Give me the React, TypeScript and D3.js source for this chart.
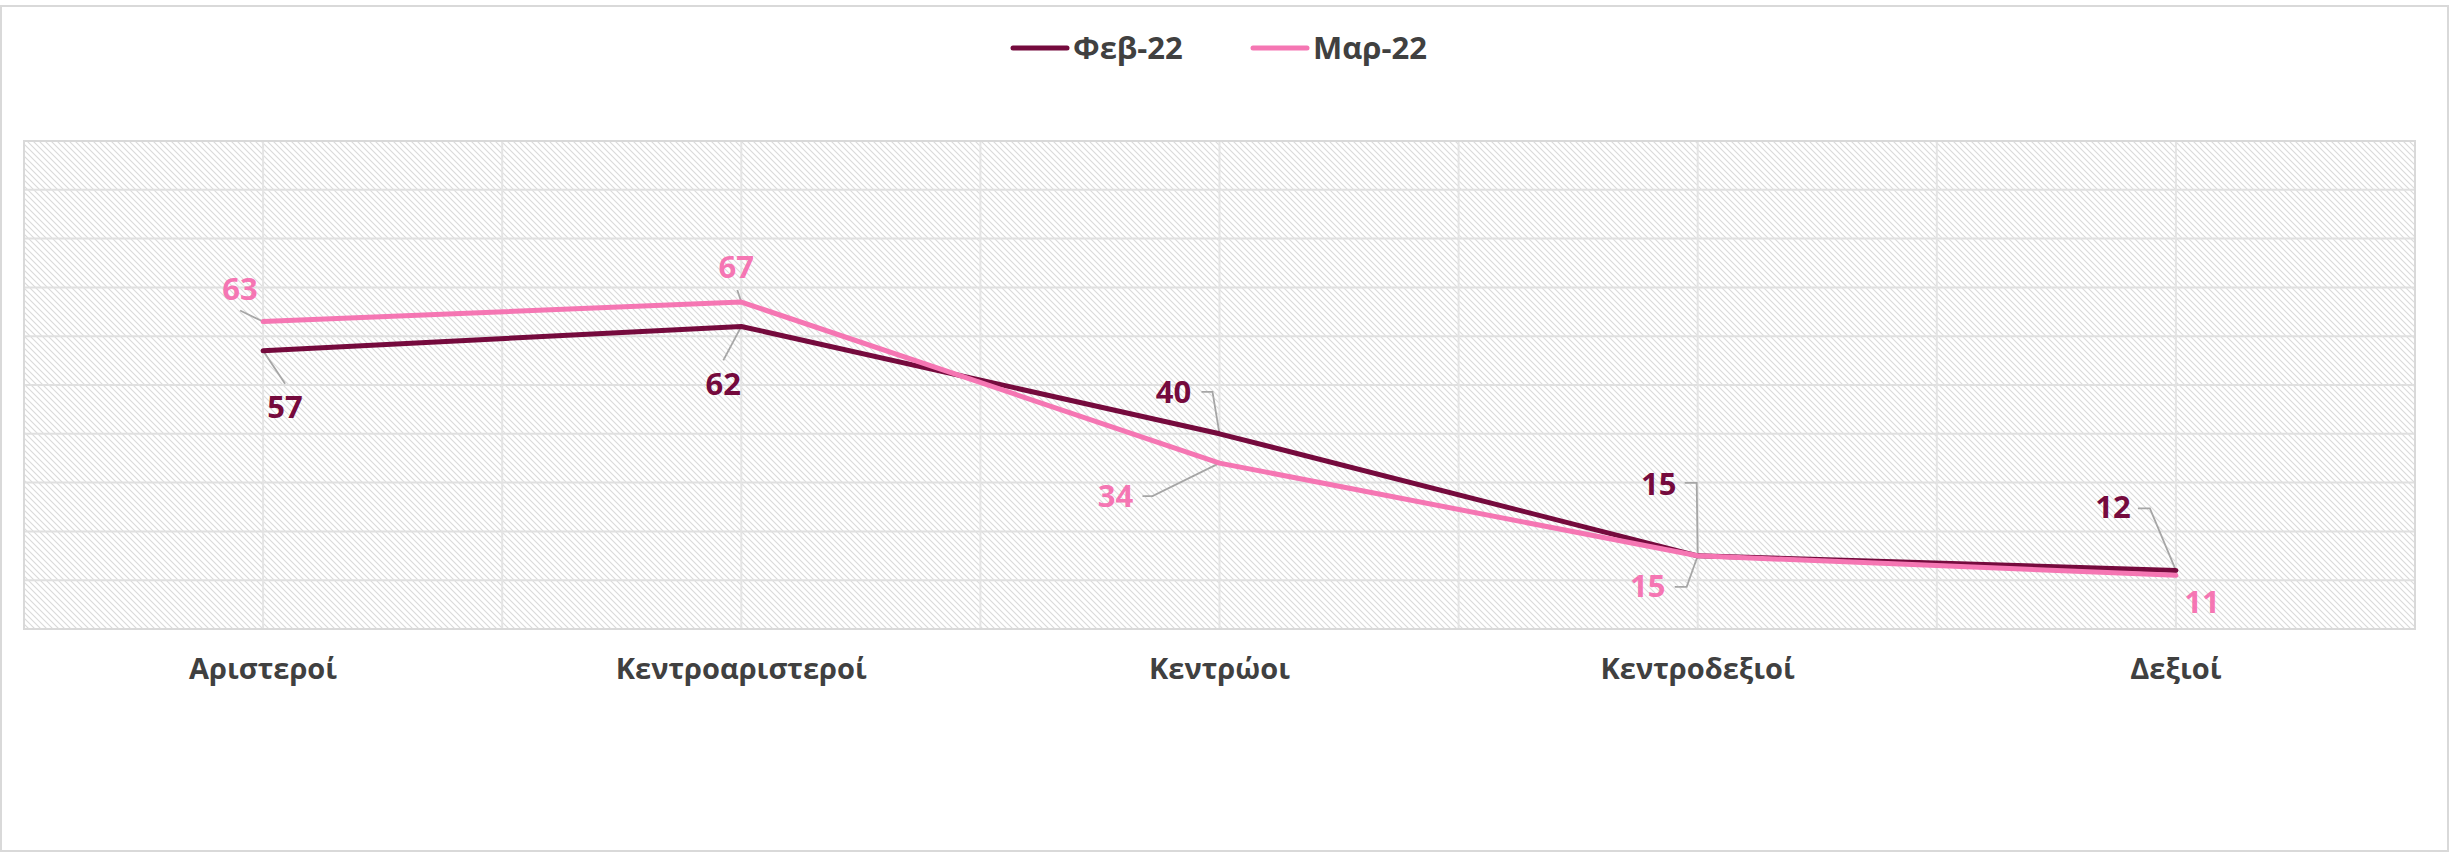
import React from "react";
import * as d3 from "d3";

const categories = ["Αριστεροί", "Κεντροαριστεροί", "Κεντρώοι", "Κεντροδεξιοί", "Δεξιοί"];
const seriesNames = ["Φεβ-22", "Μαρ-22"];
const febValues = [57, 62, 40, 15, 12];
const marValues = [63, 67, 34, 15, 11];
const yTicks = [0, 10, 20, 30, 40, 50, 60, 70, 80, 90, 100];

const W = 2453;
const H = 852;
const colors = ["#750A3D", "#F576B3"];
const FONT = "'Open Sans', 'DejaVu Sans', sans-serif";

// label placement (offsets relative to the data point), kept separate from data
const febLabelLayout = [
  { dx: 22, dy: 67, leader: [[22, 33], [0, 0]] },
  { dx: -18, dy: 69, leader: [[-18, 34], [0, 0]] },
  { dx: -46, dy: -31, leader: [[-18, -42], [-7, -42], [0, 0]] },
  { dx: -39, dy: -61, leader: [[-13, -73], [-1, -73], [0, 0]] },
  { dx: -63, dy: -52, leader: [[-38, -62], [-26, -62], [0, 0]] },
];
const marLabelLayout = [
  { dx: -23, dy: -22, leader: [[-23, -11], [0, 0]] },
  { dx: -5, dy: -24, leader: [[-4, -12], [0, 0]] },
  { dx: -104, dy: 44, leader: [[-77, 33], [-67, 33], [0, 0]] },
  { dx: -50, dy: 41, leader: [[-23, 31], [-11, 31], [0, 0]] },
  { dx: 26, dy: 38, leader: null as null | number[][] },
];

export default function App() {
  const left = 24, right = 2415, top = 141, bottom = 629;
  const x = d3.scaleBand<string>().domain(categories).range([left, right]).padding(0);
  const bw = x.bandwidth();
  const cx = (c: string) => (x(c) as number) + bw / 2;
  const y = d3.scaleLinear().domain([0, 100]).range([bottom, top]);

  const line = d3
    .line<number>()
    .x((_, i) => cx(categories[i]))
    .y((v) => y(v));

  const series = [
    { name: seriesNames[0], values: febValues, color: colors[0], layout: febLabelLayout },
    { name: seriesNames[1], values: marValues, color: colors[1], layout: marLabelLayout },
  ];

  const vLines: number[] = [];
  categories.forEach((c) => {
    vLines.push(x(c) as number);
    vLines.push(cx(c));
  });
  vLines.push(right);

  const leaderLine = d3.line();

  return (
    <svg
      width={W}
      height={H}
      style={{ position: "absolute", left: 0, top: 0, background: "#fff" }}
      fontFamily={FONT}
    >
      <defs>
        <pattern id="hatch" patternUnits="userSpaceOnUse" width={6} height={6}>
          <rect width={6} height={6} fill="#ffffff" />
          <path d="M-1,-1 L7,7 M-1,5 L1,7 M5,-1 L7,1" stroke="#dadada" strokeWidth={1.1} />
        </pattern>
      </defs>
      <rect x={1} y={6} width={2447} height={845} fill="#fff" stroke="#d9d9d9" strokeWidth={2} />

      {/* plot area */}
      <rect x={left} y={top} width={right - left} height={bottom - top} fill="url(#hatch)" />
      <g>
        {yTicks.map((t) => (
          <line key={"h" + t} x1={left} x2={right} y1={y(t)} y2={y(t)} stroke="#e0e0e0" strokeWidth={2} />
        ))}
        {vLines.map((v, i) => (
          <line key={"v" + i} x1={v} x2={v} y1={top} y2={bottom} stroke="#e4e4e4" strokeWidth={2} />
        ))}
        <rect x={left} y={top} width={right - left} height={bottom - top} fill="none" stroke="#d9d9d9" strokeWidth={2} />
      </g>

      {/* leader lines */}
      {series.map((s) =>
        s.values.map((v, i) => {
          const L = s.layout[i];
          if (!L.leader) return null;
          const px = cx(categories[i]);
          const py = y(v);
          const pts = L.leader.map(([a, b]) => [px + a, py + b] as [number, number]);
          return (
            <path key={s.name + "l" + i} d={leaderLine(pts) as string} fill="none" stroke="#a6a6a6" strokeWidth={1.8} />
          );
        })
      )}

      {/* lines */}
      {series.map((s) => (
        <path
          key={s.name}
          d={line(s.values) as string}
          fill="none"
          stroke={s.color}
          strokeWidth={5}
          strokeLinejoin="round"
          strokeLinecap="round"
        />
      ))}

      {/* data labels */}
      {series.map((s) =>
        s.values.map((v, i) => {
          const L = s.layout[i];
          return (
            <text
              key={s.name + "t" + i}
              x={cx(categories[i]) + L.dx}
              y={y(v) + L.dy}
              textAnchor="middle"
              fontSize={31}
              fontWeight={700}
              fill={s.color}
            >
              {v}
            </text>
          );
        })
      )}

      {/* category labels */}
      {categories.map((c) => (
        <text key={c} x={cx(c)} y={679} textAnchor="middle" fontSize={29} fontWeight={700} fill="#404040">
          {c}
        </text>
      ))}

      {/* legend */}
      {series.map((s, i) => {
        const lx = i === 0 ? 1013 : 1253;
        return (
          <g key={"lg" + i}>
            <line x1={lx} x2={lx + 54} y1={48} y2={48} stroke={s.color} strokeWidth={5} strokeLinecap="round" />
            <text x={lx + 60} y={59} fontSize={31} fontWeight={700} fill="#404040">
              {s.name}
            </text>
          </g>
        );
      })}
    </svg>
  );
}
